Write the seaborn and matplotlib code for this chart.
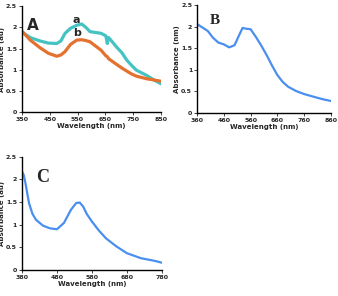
import pandas as pd
import matplotlib.pyplot as plt
import seaborn as sns

# Panel A: two spectra (a, b)
wl_a = [350, 380, 415, 445, 475, 490, 505, 525, 547, 565, 580, 595, 615, 635, 652, 657, 662, 675, 690, 710, 727, 745, 762, 780, 798, 825, 850]
abs_a = [1.89, 1.76, 1.68, 1.63, 1.62, 1.68, 1.86, 1.98, 2.05, 2.08, 2.00, 1.90, 1.88, 1.86, 1.80, 1.62, 1.76, 1.66, 1.54, 1.40, 1.23, 1.10, 0.99, 0.93, 0.87, 0.76, 0.67]
abs_b = [1.91, 1.70, 1.52, 1.39, 1.32, 1.35, 1.43, 1.60, 1.70, 1.71, 1.69, 1.66, 1.56, 1.46, 1.33, 1.31, 1.26, 1.20, 1.13, 1.04, 0.97, 0.90, 0.85, 0.82, 0.79, 0.76, 0.73]

# Panel B
wl_b = [360, 380, 400, 420, 440, 460, 480, 500, 520, 530, 545, 560, 580, 600, 620, 640, 660, 680, 700, 730, 760, 800, 830, 860]
abs_bb = [2.06, 1.98, 1.90, 1.74, 1.63, 1.59, 1.52, 1.57, 1.84, 1.97, 1.95, 1.94, 1.76, 1.56, 1.34, 1.10, 0.88, 0.72, 0.61, 0.51, 0.44, 0.37, 0.32, 0.28]

# Panel C
wl_c = [380, 385, 390, 400, 410, 420, 440, 460, 480, 500, 520, 535, 545, 555, 565, 580, 600, 620, 650, 680, 720, 760, 780]
abs_c = [2.18, 2.10, 1.92, 1.48, 1.24, 1.11, 0.98, 0.92, 0.90, 1.04, 1.33, 1.48, 1.49, 1.40, 1.24, 1.07, 0.87, 0.70, 0.52, 0.37, 0.26, 0.20, 0.16]

teal = '#45C3C3'
orange = '#E4712F'
blue = '#4A8FEF'

df_a = pd.DataFrame({'Wavelength': wl_a * 2, 'Absorbance': abs_a + abs_b,
                     'Sample': ['a'] * len(wl_a) + ['b'] * len(wl_a)})
df_b = pd.DataFrame({'Wavelength': wl_b, 'Absorbance': abs_bb})
df_c = pd.DataFrame({'Wavelength': wl_c, 'Absorbance': abs_c})

sns.set_style('ticks')
plt.rcParams['font.family'] = ['DejaVu Sans']

fig = plt.figure(figsize=(3.38, 2.96), dpi=100)
ax1 = fig.add_axes([0.065, 0.621, 0.411, 0.358])
ax2 = fig.add_axes([0.583, 0.618, 0.396, 0.365])
ax3 = fig.add_axes([0.065, 0.088, 0.414, 0.382])

sns.lineplot(data=df_a, x='Wavelength', y='Absorbance', hue='Sample',
             palette={'a': teal, 'b': orange}, linewidth=2.3, legend=False, ax=ax1)
sns.lineplot(data=df_b, x='Wavelength', y='Absorbance', color=blue, linewidth=1.6, ax=ax2)
sns.lineplot(data=df_c, x='Wavelength', y='Absorbance', color=blue, linewidth=1.6, ax=ax3)

panels = [
    (ax1, (350, 850), range(350, 851, 100), 'Absorbance (au)'),
    (ax2, (360, 860), range(360, 861, 100), 'Absorbance (nm)'),
    (ax3, (380, 780), range(380, 781, 100), 'Absorbance (au)'),
]
for ax, xlim, xt, ylab in panels:
    ax.set_xlim(*xlim)
    ax.set_ylim(0, 2.5)
    ax.set_xticks(list(xt))
    ax.set_yticks([0, 0.5, 1, 1.5, 2, 2.5])
    ax.set_yticklabels(['0', '0.5', '1', '1.5', '2', '2.5'])
    ax.set_xlabel('Wavelength (nm)', fontsize=5, fontweight='bold', labelpad=1)
    ax.set_ylabel(ylab, fontsize=5, fontweight='bold', labelpad=1)
    ax.tick_params(axis='both', labelsize=4.5, length=2, width=0.6, pad=1.5)
    for lab in ax.get_xticklabels() + ax.get_yticklabels():
        lab.set_fontweight('bold')
    for s in ['left', 'bottom']:
        ax.spines[s].set_linewidth(1.0)
        ax.spines[s].set_color('black')
    sns.despine(ax=ax)

ax1.text(390, 2.05, 'A', fontsize=11, fontweight='bold', ha='center', va='center')
ax1.text(545, 2.17, 'a', fontsize=8, fontweight='bold', ha='center', va='center')
ax1.text(550, 1.86, 'b', fontsize=8, fontweight='bold', ha='center', va='center')
ax2.text(425, 2.15, 'B', fontsize=11, fontweight='bold', family='Liberation Serif', ha='center', va='center')
ax3.text(440, 2.05, 'C', fontsize=13, fontweight='bold', family='Liberation Serif', ha='center', va='center')

plt.savefig('out.png', dpi=100)
